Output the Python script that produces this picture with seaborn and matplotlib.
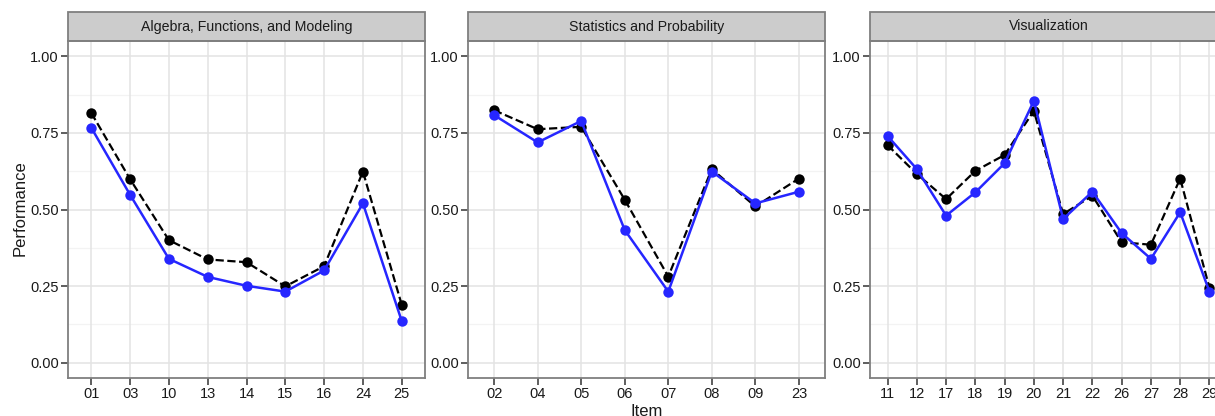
import numpy as np
import pandas as pd
import matplotlib
matplotlib.use("Agg")
import matplotlib.pyplot as plt
import seaborn as sns
from matplotlib.patches import Rectangle

# facet titles
facets = ["Algebra, Functions, and Modeling", "Statistics and Probability", "Visualization"]

# items per facet
items_alg = ["01", "03", "10", "13", "14", "15", "16", "24", "25"]
items_stat = ["02", "04", "05", "06", "07", "08", "09", "23"]
items_vis = ["11", "12", "17", "18", "19", "20", "21", "22", "26", "27", "28", "29"]

# black dashed series
black_alg = [0.815, 0.599, 0.400, 0.337, 0.328, 0.249, 0.315, 0.624, 0.189]
black_stat = [0.824, 0.762, 0.770, 0.532, 0.281, 0.632, 0.510, 0.601]
black_vis = [0.710, 0.616, 0.534, 0.626, 0.678, 0.822, 0.485, 0.545, 0.393, 0.385, 0.601, 0.244]

# blue solid series
blue_alg = [0.767, 0.548, 0.339, 0.280, 0.251, 0.232, 0.301, 0.520, 0.136]
blue_stat = [0.808, 0.719, 0.789, 0.433, 0.232, 0.624, 0.520, 0.558]
blue_vis = [0.740, 0.632, 0.480, 0.556, 0.651, 0.855, 0.469, 0.558, 0.423, 0.339, 0.491, 0.232]

rows = []
for f, its, bk, bl in [(facets[0], items_alg, black_alg, blue_alg),
                       (facets[1], items_stat, black_stat, blue_stat),
                       (facets[2], items_vis, black_vis, blue_vis)]:
    for i, b, u in zip(its, bk, bl):
        rows.append({"facet": f, "Item": i, "series": "black", "Performance": b})
        rows.append({"facet": f, "Item": i, "series": "blue", "Performance": u})
data = pd.DataFrame(rows)

sns.set_theme(style="white")
plt.rcParams["font.family"] = ["Liberation Sans", "DejaVu Sans"]

W, H = 1215, 416
fig = plt.figure(figsize=(W / 100, H / 100), dpi=100)

# panel placement in pixels, last one runs past the right edge
lefts = [68, 468, 870]
width = 357
top, bottom = 41, 378
strip_h = 29

border = "#7f7f7f"
for k, f in enumerate(facets):
    ax = fig.add_axes([lefts[k] / W, (H - bottom) / H, width / W, (bottom - top) / H])
    sub = data[data.facet == f]
    n = sub["Item"].nunique()

    # grid
    for y in [0.125, 0.375, 0.625, 0.875]:
        ax.axhline(y, color="#f3f3f3", lw=0.9, zorder=0)
    for y in [0, 0.25, 0.5, 0.75, 1.0]:
        ax.axhline(y, color="#e3e3e3", lw=1.1, zorder=0)
    for x in range(n):
        ax.axvline(x, color="#e3e3e3", lw=1.1, zorder=0)

    sns.lineplot(data=sub[sub.series == "black"], x="Item", y="Performance", ax=ax,
                 color="black", linestyle="--", lw=1.6, marker="o", markersize=7.5,
                 markeredgewidth=0, sort=False, errorbar=None, zorder=3)
    sns.lineplot(data=sub[sub.series == "blue"], x="Item", y="Performance", ax=ax,
                 color="#2626ff", lw=1.8, marker="o", markersize=7.5,
                 markeredgewidth=0, sort=False, errorbar=None, zorder=4)

    ax.set_xlim(-0.6, n - 0.4)
    ax.set_ylim(-0.05, 1.05)
    ax.set_yticks([0, 0.25, 0.5, 0.75, 1.0])
    ax.set_yticklabels(["0.00", "0.25", "0.50", "0.75", "1.00"])
    ax.tick_params(axis="both", length=5, width=1.1, color="#333333", labelsize=10.5,
                   labelcolor="#1a1a1a", pad=1.5, left=True, bottom=True)
    for s in ax.spines.values():
        s.set_color(border)
        s.set_linewidth(1.3)
    ax.set_xlabel("")
    ax.set_ylabel("")

    # facet strip
    ax.add_patch(Rectangle((0, 1), 1, strip_h / (bottom - top), transform=ax.transAxes,
                           facecolor="#cccccc", edgecolor=border, lw=1.3, clip_on=False))
    ax.text(0.5, 1 + strip_h / (bottom - top) / 2, f, transform=ax.transAxes,
            ha="center", va="center", fontsize=10.2, color="#1a1a1a")

fig.text(20 / W, 1 - 208 / H, "Performance", rotation=90, ha="center", va="center",
         fontsize=12, color="#1a1a1a")
fig.text(647 / W, 1 - 411 / H, "Item", ha="center", va="center", fontsize=12, color="#1a1a1a")

fig.savefig("out.png", dpi=100)
